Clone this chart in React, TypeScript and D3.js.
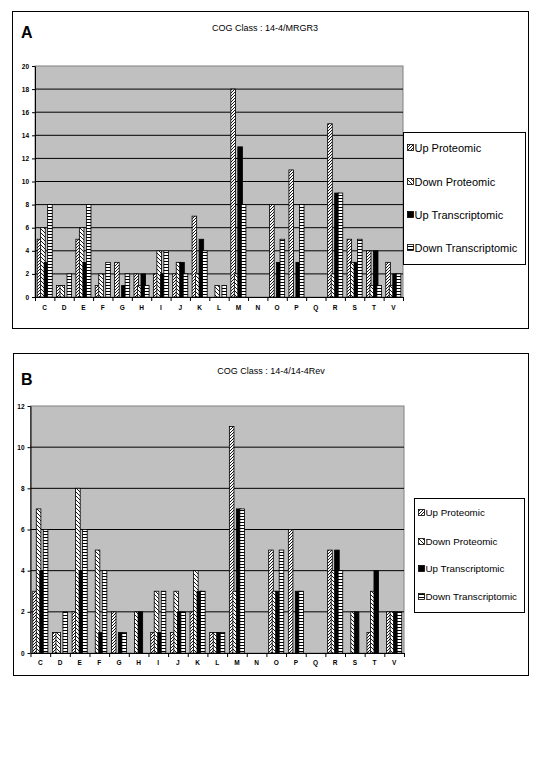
import * as d3 from "d3";
import { useEffect, useRef } from "react";

const categories = ["C", "D", "E", "F", "G", "H", "I", "J", "K", "L", "M", "N", "O", "P", "Q", "R", "S", "T", "V"];
const seriesNames = ["Up Proteomic", "Down Proteomic", "Up Transcriptomic", "Down Transcriptomic"];

// panel A : 14-4/MRGR3
const aUpProt = [5, 1, 5, 1, 3, 2, 2, 2, 7, 0, 18, 0, 8, 11, 0, 15, 5, 4, 3];
const aDownProt = [6, 1, 6, 2, 0, 1, 4, 3, 2, 1, 2, 0, 0, 0, 0, 2, 3, 1, 1];
const aUpTrans = [3, 0, 3, 0, 1, 2, 2, 3, 5, 0, 13, 0, 3, 3, 0, 9, 3, 4, 2];
const aDownTrans = [8, 2, 8, 3, 2, 1, 4, 2, 4, 1, 8, 0, 5, 8, 0, 9, 5, 1, 2];
const aTicks = [0, 2, 4, 6, 8, 10, 12, 14, 16, 18, 20];

// panel B : 14-4/14-4Rev
const bUpProt = [3, 1, 2, 0, 2, 0, 1, 1, 2, 1, 11, 0, 5, 6, 0, 5, 0, 1, 2];
const bDownProt = [7, 1, 8, 5, 0, 2, 3, 3, 4, 1, 3, 0, 3, 0, 0, 4, 2, 3, 2];
const bUpTrans = [4, 0, 4, 1, 1, 2, 1, 2, 3, 1, 7, 0, 3, 3, 0, 5, 2, 4, 2];
const bDownTrans = [6, 2, 6, 4, 1, 0, 3, 2, 3, 1, 7, 0, 5, 3, 0, 4, 0, 0, 2];
const bTicks = [0, 2, 4, 6, 8, 10, 12];

const fills = ["url(#pUp)", "url(#pDown)", "#000", "url(#pLadder)"];
const font = "Liberation Sans, Arial, sans-serif";

function drawPanel(svg: any, cfg: any) {
  const root = svg.append("g");
  const p = cfg.plot;

  root.append("rect")
    .attr("x", cfg.box[0]).attr("y", cfg.box[1])
    .attr("width", cfg.box[2]).attr("height", cfg.box[3])
    .attr("fill", "#fff").attr("stroke", "#000").attr("stroke-width", 1);

  root.append("text")
    .attr("x", cfg.letter[0]).attr("y", cfg.letter[1])
    .attr("font-family", font)
    .attr("font-weight", "bold").attr("font-size", 16)
    .text(cfg.letterText);

  root.append("text")
    .attr("x", cfg.title[0]).attr("y", cfg.title[1])
    .attr("text-anchor", "middle")
    .attr("font-family", font)
    .attr("font-size", 9)
    .text(cfg.titleText);

  const y = d3.scaleLinear().domain([0, cfg.max]).range([p.y1, p.y0]);
  const xi = d3.scaleLinear().domain([0, categories.length]).range([p.x0, p.x1]);
  const x = d3.scaleBand().domain(categories).range([p.x0, p.x1]);

  // plot area
  root.append("rect")
    .attr("x", p.x0).attr("y", p.y0)
    .attr("width", p.x1 - p.x0).attr("height", p.y1 - p.y0)
    .attr("fill", "#c0c0c0").attr("stroke", "#808080");

  root.append("g")
    .selectAll("line")
    .data(cfg.ticks.filter((t: number) => t > 0 && t < cfg.max))
    .join("line")
    .attr("x1", p.x0).attr("x2", p.x1)
    .attr("y1", (d: number) => y(d)).attr("y2", (d: number) => y(d))
    .attr("stroke", "#000").attr("stroke-width", 1);

  // overlapped clustered bars
  const barW = 4.6;
  const step = 3.5;
  const off0 = (x.bandwidth() - (step * 3 + barW)) / 2;

  cfg.series.forEach((vals: number[], si: number) => {
    root.append("g")
      .selectAll("rect")
      .data(vals.map((v, i) => ({ c: categories[i], v })).filter((d) => d.v > 0))
      .join("rect")
      .attr("x", (d: any) => (x(d.c) as number) + off0 + si * step)
      .attr("y", (d: any) => y(d.v))
      .attr("width", barW)
      .attr("height", (d: any) => y(0) - y(d.v))
      .attr("fill", fills[si])
      .attr("stroke", "#000")
      .attr("stroke-width", 0.8);
  });

  const yAx = root.append("g")
    .attr("transform", `translate(${p.x0},0)`)
    .call(d3.axisLeft(y).tickValues(cfg.ticks).tickSize(3).tickSizeOuter(0).tickFormat(d3.format("d")));
  yAx.select(".domain").attr("stroke", "#000");
  yAx.selectAll("text")
    .attr("font-family", font)
    .attr("font-weight", "bold").attr("font-size", 6.5).attr("fill", "#000");

  const xAx = root.append("g")
    .attr("transform", `translate(0,${p.y1})`)
    .call(d3.axisBottom(xi).tickValues(d3.range(categories.length + 1)).tickSize(4).tickSizeOuter(0).tickFormat(() => ""));
  xAx.select(".domain").attr("stroke", "#000");

  const xLab = root.append("g")
    .attr("transform", `translate(0,${p.y1})`)
    .call(d3.axisBottom(x).tickSize(0).tickPadding(cfg.labelPad));
  xLab.select(".domain").remove();
  xLab.selectAll("text")
    .attr("font-family", font)
    .attr("font-weight", "bold").attr("font-size", 6.5).attr("fill", "#000");

  // legend
  const lg = cfg.legend;
  root.append("rect")
    .attr("x", lg.x).attr("y", lg.y).attr("width", lg.w).attr("height", lg.h)
    .attr("fill", "#fff").attr("stroke", "#000");

  seriesNames.forEach((name, si) => {
    const cy = lg.rows[si];
    root.append("rect")
      .attr("x", lg.x + 4).attr("y", cy - 3.5)
      .attr("width", 6).attr("height", 6)
      .attr("fill", fills[si]).attr("stroke", "#000").attr("stroke-width", 0.8);
    root.append("text")
      .attr("x", lg.x + 11).attr("y", cy)
      .attr("dy", "0.35em")
      .attr("font-family", font)
      .attr("font-size", lg.font)
      .text(name);
  });
}

export default function App() {
  const ref = useRef<SVGSVGElement>(null);

  useEffect(() => {
    document.body.style.margin = "0";
    const svg = d3.select(ref.current);
    svg.selectAll("g.panels").remove();
    const host = svg.append("g").attr("class", "panels");

    drawPanel(host, {
      box: [12.5, 11.5, 516, 317],
      letter: [21, 38],
      letterText: "A",
      title: [265, 31],
      titleText: "COG Class : 14-4/MRGR3",
      plot: { x0: 35, x1: 403, y0: 66, y1: 297 },
      max: 20,
      ticks: aTicks,
      series: [aUpProt, aDownProt, aUpTrans, aDownTrans],
      labelPad: 8,
      legend: { x: 403.5, y: 132.5, w: 122, h: 132, rows: [148, 182, 215, 248], font: 11 },
    });

    drawPanel(host, {
      box: [13.5, 353.5, 515, 322],
      letter: [21, 385],
      letterText: "B",
      title: [271, 374],
      titleText: "COG Class : 14-4/14-4Rev",
      plot: { x0: 30.5, x1: 404, y0: 406, y1: 653 },
      max: 12,
      ticks: bTicks,
      series: [bUpProt, bDownProt, bUpTrans, bDownTrans],
      labelPad: 7,
      legend: { x: 414.5, y: 498.5, w: 110, h: 114, rows: [513, 542, 569, 597], font: 9.8 },
    });
  }, []);

  return (
    <svg ref={ref} width={540} height={780} style={{ display: "block", background: "#fff" }}>
      <defs>
        <pattern id="pUp" width="3" height="3" patternUnits="userSpaceOnUse">
          <rect width="3" height="3" fill="#fff" />
          <path d="M0,3 L3,0 M-1,1 L1,-1 M2,4 L4,2" stroke="#000" strokeWidth="0.9" />
        </pattern>
        <pattern id="pDown" width="4" height="4" patternUnits="userSpaceOnUse">
          <rect width="4" height="4" fill="#fff" />
          <path d="M0,0 L4,4 M-1,3 L1,5 M3,-1 L5,1" stroke="#000" strokeWidth="0.9" />
        </pattern>
        <pattern id="pLadder" width="3" height="3" patternUnits="userSpaceOnUse">
          <rect width="3" height="3" fill="#fff" />
          <path d="M0,0.5 L3,0.5" stroke="#000" strokeWidth="1" />
        </pattern>
      </defs>
    </svg>
  );
}
